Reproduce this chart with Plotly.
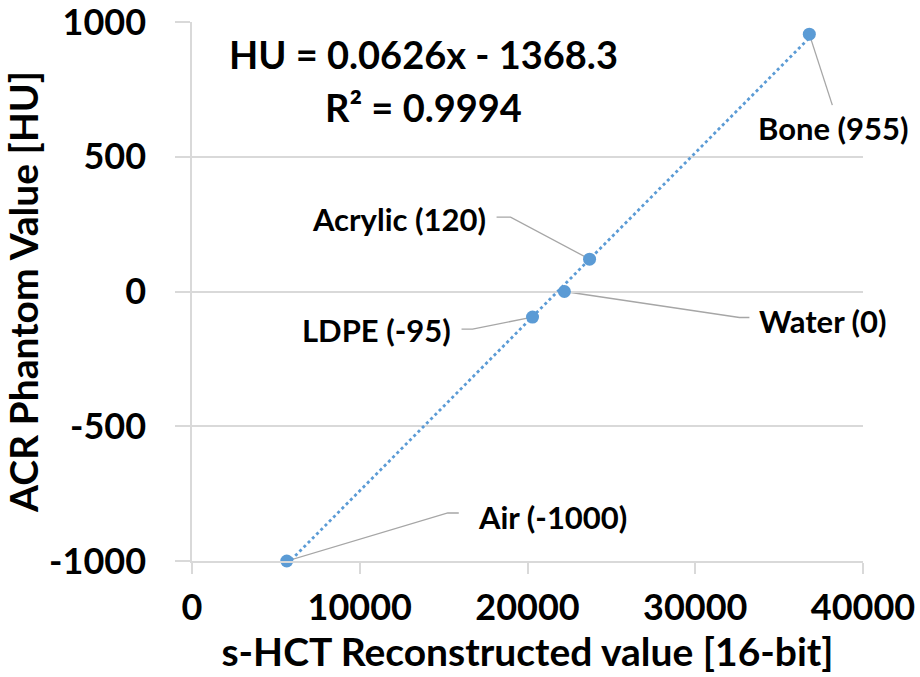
import numpy as np
import plotly.graph_objects as go

# Measured phantom inserts: reconstructed value vs. nominal HU
materials = ["Air", "LDPE", "Water", "Acrylic", "Bone"]
recon_values = [5650, 20300, 22200, 23700, 36800]
hu_values = [-1000, -95, 0, 120, 955]

x_ticks = [0, 10000, 20000, 30000, 40000]
y_ticks = [-1000, -500, 0, 500, 1000]

equation_text = "HU = 0.0626x - 1368.3"
r2_text = "R² = 0.9994"

BLUE = "#5b9bd5"
GRID = "#d9d9d9"
LEADER = "#a6a6a6"
FONT = "Lato, 'Open Sans', sans-serif"

# Linear trendline over the measured range
slope, intercept = np.polyfit(recon_values, hu_values, 1)
fit_x = np.array([min(recon_values), max(recon_values)])
fit_y = slope * fit_x + intercept

fig = go.Figure()
fig.add_trace(go.Scatter(
    x=fit_x, y=fit_y, mode="lines",
    line=dict(color=BLUE, width=2.8, dash="dot"),
    hoverinfo="skip", showlegend=False, cliponaxis=False,
))
fig.add_trace(go.Scatter(
    x=recon_values, y=hu_values, mode="markers",
    marker=dict(color=BLUE, size=13),
    showlegend=False, cliponaxis=False,
))

# Leader-line paths (pixel offsets from each point) and label placement
leaders = {
    "Air":     dict(path="M0,0 L161,48 L172,48", lx=189, ly=44, xa="left"),
    "LDPE":    dict(path="M0,0 L-60,-12 L-71,-12", lx=-80, ly=-13, xa="right"),
    "Water":   dict(path="M0,0 L175,-26 L185,-26", lx=193, ly=-29, xa="left"),
    "Acrylic": dict(path="M0,0 L-79,42 L-93,42", lx=-102, ly=40, xa="right"),
    "Bone":    dict(path="M0,0 L23,-71", lx=24, ly=-94, xa="center"),
}

for name, xv, yv in zip(materials, recon_values, hu_values):
    spec = leaders[name]
    fig.add_shape(
        type="path", path=spec["path"],
        xref="x", yref="y", xsizemode="pixel", ysizemode="pixel",
        xanchor=xv, yanchor=yv,
        line=dict(color=LEADER, width=1.3), layer="below",
    )
    fig.add_annotation(
        x=xv, y=yv, text=f"<b>{name} ({yv})</b>", showarrow=False,
        xanchor=spec["xa"], yanchor="middle",
        xshift=spec["lx"], yshift=spec["ly"],
        font=dict(family=FONT, size=31, color="#000000"),
    )

fig.add_annotation(
    x=0.345, y=0.941, xref="paper", yref="paper", showarrow=False,
    text=f"<b>{equation_text}</b>", xanchor="center", yanchor="middle",
    font=dict(family=FONT, size=38, color="#000000"),
)
fig.add_annotation(
    x=0.345, y=0.843, xref="paper", yref="paper", showarrow=False,
    text=f"<b>{r2_text}</b>", xanchor="center", yanchor="middle",
    font=dict(family=FONT, size=38, color="#000000"),
)

fig.update_layout(
    width=920, height=677,
    margin=dict(l=192, r=57, t=22, b=116),
    paper_bgcolor="white", plot_bgcolor="white",
    font=dict(family=FONT, color="#000000"),
)
fig.update_xaxes(
    range=[0, 40000], tickvals=x_ticks, ticktext=[f"<b>{v}</b>" for v in x_ticks],
    showgrid=False, zeroline=False, automargin=False,
    showline=True, linecolor=GRID, linewidth=1.5,
    ticks="outside", ticklen=11, tickcolor=GRID, tickwidth=1.5,
    tickfont=dict(family=FONT, size=36), ticklabelstandoff=3,
    ticklabeloverflow="allow",
    title=dict(text="<b>s-HCT Reconstructed value [16-bit]</b>",
               font=dict(family=FONT, size=39), standoff=12),
)
fig.update_yaxes(
    range=[-1000, 1000], tickvals=y_ticks, ticktext=[f"<b>{v}</b>" for v in y_ticks],
    showgrid=True, gridcolor=GRID, gridwidth=1.5, zeroline=False, automargin=False,
    showline=True, linecolor=GRID, linewidth=1.5,
    ticks="outside", ticklen=15, tickcolor=GRID, tickwidth=1.5,
    tickfont=dict(family=FONT, size=36), ticklabelstandoff=22,
    ticklabeloverflow="allow",
    title=dict(text="<b>ACR Phantom Value [HU]</b>",
               font=dict(family=FONT, size=39), standoff=12),
)

fig.write_html("out.html")
